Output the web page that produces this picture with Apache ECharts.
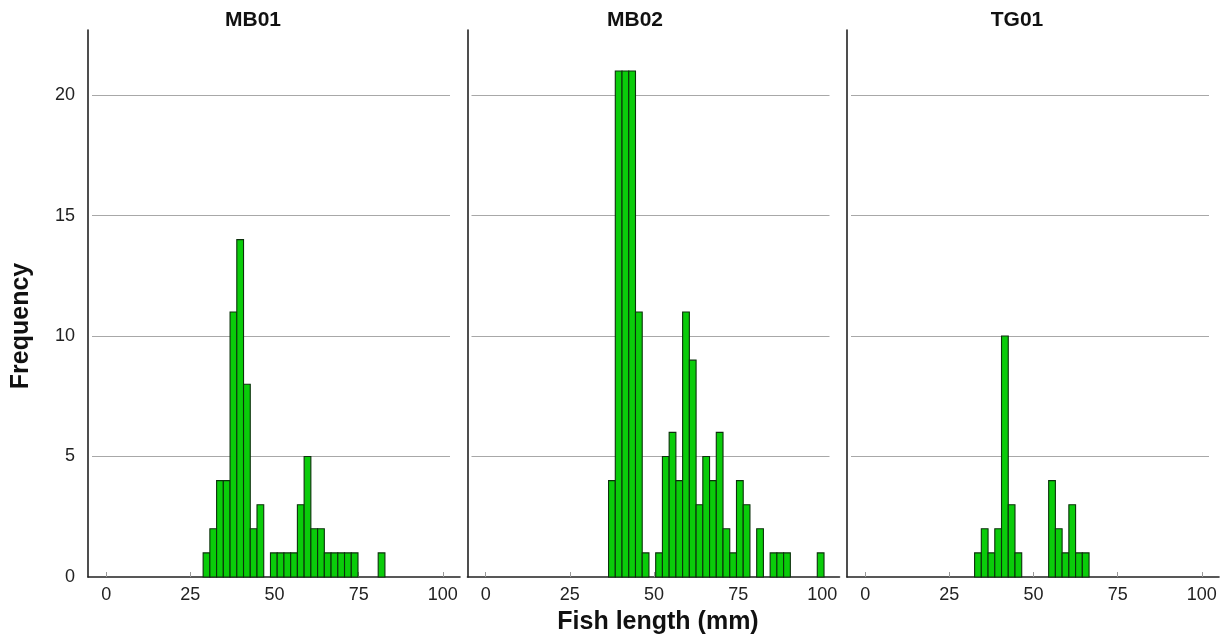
<!DOCTYPE html>
<html>
<head>
<meta charset="utf-8">
<script src="https://cdn.jsdelivr.net/npm/echarts@6/dist/echarts.min.js"></script>
<style>
  html, body { margin: 0; padding: 0; background: #ffffff; }
  #chart { width: 1229px; height: 641px; }
</style>
</head>
<body>
<div id="chart"></div>
<script>
// ---- data ----
const panelNames = ['MB01', 'MB02', 'TG01'];
const binWidth = 2;
const binStarts = [28.8, 36.5, 32.5];          // lower edge of first bin in each panel (mm)
const mb01Counts = [1, 2, 4, 4, 11, 14, 8, 2, 3, 0, 1, 1, 1, 1, 3, 5, 2, 2, 1, 1, 1, 1, 1, 0, 0, 0, 1];
const mb02Counts = [4, 21, 21, 21, 11, 1, 0, 1, 5, 6, 4, 11, 9, 3, 5, 4, 6, 2, 1, 4, 3, 0, 2, 0, 1, 1, 1, 0, 0, 0, 0, 1];
const tg01Counts = [1, 2, 1, 2, 10, 3, 1, 0, 0, 0, 0, 4, 2, 1, 3, 1, 1];
const xTickValues = [0, 25, 50, 75, 100];
const yTickInterval = 5;
const xTitle = 'Fish length (mm)';
const yTitle = 'Frequency';

const allCounts = [mb01Counts, mb02Counts, tg01Counts];

// ---- layout ----
const panelLefts = [88, 467.5, 847];
const panelWidth = 372;
const gridTop = 30;
const gridHeight = 547;
const xMin = -5.4, xMax = 105.1;
const yMax = 22.7;
const font = '"Liberation Sans", Arial, Helvetica, sans-serif';

const grids = [], xAxes = [], yAxes = [], series = [];

panelNames.forEach((name, i) => {
  grids.push({ left: panelLefts[i], top: gridTop, width: panelWidth, height: gridHeight });
});
// gridline-only grids (slightly inset)
panelNames.forEach((name, i) => {
  grids.push({ left: panelLefts[i] + 4, top: gridTop, width: panelWidth - 14, height: gridHeight });
});

panelNames.forEach((name, i) => {
  xAxes.push({
    type: 'value', gridIndex: i, min: xMin, max: xMax,
    axisLine: { show: true, onZero: false, lineStyle: { color: '#222', width: 1.6 } },
    axisTick: { show: true, inside: true, length: 5, customValues: xTickValues, lineStyle: { color: '#999', width: 1 } },
    axisLabel: { customValues: xTickValues, fontSize: 18, color: '#222', margin: 9, fontFamily: font },
    splitLine: { show: false }
  });
  yAxes.push({
    type: 'value', gridIndex: i, min: 0, max: yMax, interval: yTickInterval,
    axisLine: { show: true, onZero: false, lineStyle: { color: '#222', width: 1.6 } },
    axisTick: { show: false },
    axisLabel: { show: i === 0, fontSize: 18, color: '#222', margin: 13, showMaxLabel: false, fontFamily: font },
    splitLine: { show: false }
  });
});
panelNames.forEach((name, i) => {
  xAxes.push({ type: 'value', gridIndex: 3 + i, min: xMin, max: xMax, show: false });
  yAxes.push({
    type: 'value', gridIndex: 3 + i, min: 0, max: yMax, interval: yTickInterval,
    axisLine: { show: false }, axisTick: { show: false }, axisLabel: { show: false },
    splitLine: { show: true, showMinLine: false, showMaxLine: false, lineStyle: { color: '#a8a8a8', width: 1 } }
  });
});

panelNames.forEach((name, i) => {
  const data = [];
  allCounts[i].forEach((c, k) => {
    if (c > 0) {
      const lo = binStarts[i] + k * binWidth;
      data.push([lo, lo + binWidth, c]);
    }
  });
  series.push({
    type: 'custom', xAxisIndex: i, yAxisIndex: i, name: name,
    data: data,
    encode: { x: [0, 1], y: 2 },
    renderItem: function (params, api) {
      const p0 = api.coord([api.value(0), api.value(2)]);
      const p1 = api.coord([api.value(1), 0]);
      return {
        type: 'rect',
        shape: { x: p0[0], y: p0[1], width: p1[0] - p0[0], height: p1[1] - p0[1] },
        style: { fill: '#0acc0a', stroke: '#0c300c', lineWidth: 1.1 }
      };
    },
    z: 3
  });
});

const titleCenters = [253, 635, 1017];
const graphics = panelNames.map((name, i) => ({
  type: 'text', x: titleCenters[i], y: 20,
  style: { text: name, align: 'center', verticalAlign: 'middle', fontSize: 21, fontWeight: 'bold', fontFamily: font, fill: '#111' }
}));
graphics.push({
  type: 'text', x: 658, y: 622,
  style: { text: xTitle, align: 'center', verticalAlign: 'middle', fontSize: 25, fontWeight: 'bold', fontFamily: font, fill: '#111' }
});
graphics.push({
  type: 'text', x: 21, y: 326, rotation: Math.PI / 2,
  style: { text: yTitle, align: 'center', verticalAlign: 'middle', fontSize: 25, fontWeight: 'bold', fontFamily: font, fill: '#111' }
});

const chart = echarts.init(document.getElementById('chart'), null, { renderer: 'canvas' });
chart.setOption({
  animation: false,
  backgroundColor: '#ffffff',
  grid: grids,
  xAxis: xAxes,
  yAxis: yAxes,
  series: series,
  graphic: graphics
});
</script>
</body>
</html>
